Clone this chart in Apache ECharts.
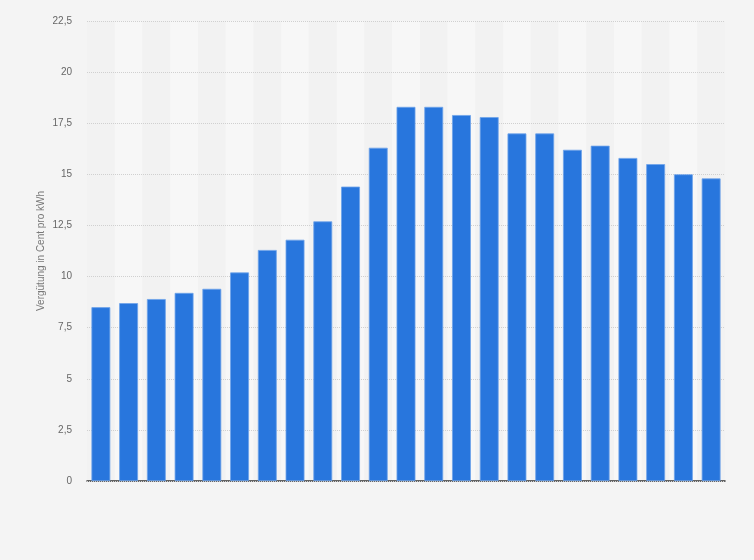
<!doctype html>
<html>
<head>
  <meta charset="utf-8">
  <title>Vergütung in Cent pro kWh</title>
  <script src="https://cdn.jsdelivr.net/npm/echarts@6/dist/echarts.min.js"></script>
  <style>
    html, body { margin: 0; padding: 0; background: #f4f4f4; }
    #chart { width: 754px; height: 560px; }
  </style>
</head>
<body>
<div id="chart"></div>
<script type="text/javascript">
// Kategorien (ohne sichtbare Beschriftung im Original)
var categories = ['1', '2', '3', '4', '5', '6', '7', '8', '9', '10', '11', '12',
                  '13', '14', '15', '16', '17', '18', '19', '20', '21', '22', '23'];
// Vergütung in Cent pro kWh
var values = [8.5, 8.7, 8.9, 9.2, 9.4, 10.2, 11.3, 11.8, 12.7, 14.4, 16.3, 18.3,
              18.3, 17.9, 17.8, 17.0, 17.0, 16.2, 16.4, 15.8, 15.5, 15.0, 14.8];
// y-Achse
var yMin = 0, yMax = 22.5, yStep = 2.5;
var axisTitle = 'Vergütung in Cent pro kWh';

var chart = echarts.init(document.getElementById('chart'));

var option = {
  backgroundColor: '#f4f4f4',
  animation: false,
  grid: { left: 87, right: 29, top: 21, bottom: 79 },
  xAxis: {
    type: 'category',
    data: categories,
    z: 0,
    axisLine: { lineStyle: { color: '#333', width: 1.5 } },
    axisTick: { show: false },
    axisLabel: { show: false },
    splitArea: { show: true, areaStyle: { color: ['#f2f2f2', '#f7f7f7'] } }
  },
  yAxis: {
    type: 'value',
    min: yMin,
    max: yMax,
    interval: yStep,
    z: 1,
    name: axisTitle,
    nameLocation: 'middle',
    nameGap: 41,
    nameMoveOverlap: false,
    nameTextStyle: { color: '#777', fontSize: 10, fontFamily: 'Liberation Sans, Arial, sans-serif' },
    axisLine: { show: false },
    axisTick: { show: false },
    axisLabel: {
      color: '#666',
      fontSize: 10,
      margin: 15,
      fontFamily: 'Liberation Sans, Arial, sans-serif',
      formatter: function (v) { return String(v).replace('.', ','); }
    },
    splitLine: { lineStyle: { color: '#d0d0d0', type: [1, 1] } }
  },
  series: [{
    type: 'bar',
    data: values,
    z: 2,
    barWidth: '68%',
    itemStyle: { color: '#2876dd', borderColor: '#6ea3ea', borderWidth: 0.8 }
  }]
};
chart.setOption(option);
</script>
</body>
</html>
